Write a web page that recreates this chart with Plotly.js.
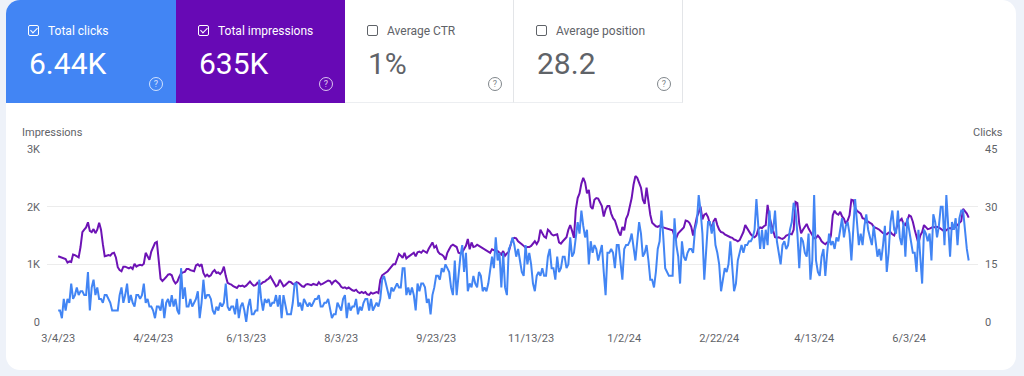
<!DOCTYPE html>
<html><head><meta charset="utf-8">
<script src="https://cdn.plot.ly/plotly-3.0.1.min.js"></script>
<style>
html,body{margin:0;padding:0;width:1024px;height:376px;overflow:hidden;background:#eef2f9;font-family:Roboto,"Noto Sans",Arial,sans-serif;}
#card{position:absolute;left:6px;top:0;width:1010px;height:370px;background:#fff;border-radius:14px;}
.m{position:absolute;top:0;height:103px;box-sizing:border-box;}
.lbl{position:absolute;left:42px;top:24px;font-size:12px;line-height:14px;}
.cb{position:absolute;left:22px;top:25px;width:9px;height:9px;border:1.5px solid;border-radius:2px;}
.cb.on::after{content:"";position:absolute;left:2.5px;top:0px;width:3px;height:6px;border:solid currentColor;border-width:0 1.5px 1.5px 0;transform:rotate(45deg);}
.val{position:absolute;left:23px;top:46px;font-size:30px;line-height:36px;}
.q{position:absolute;left:143px;top:77px;width:12px;height:12px;border:1.2px solid;border-radius:50%;font-size:9px;line-height:12px;text-align:center;}
.axt{position:absolute;top:126px;font-size:11px;color:#5f6368;}
#chart{position:absolute;left:0;top:110px;width:1024px;height:260px;}
</style></head>
<body>
<div id="card"></div>
<div class="m" style="left:6px;width:170px;background:#4285f4;color:#fff;border-top-left-radius:14px;">
  <span class="cb on" style="border-color:#fff;color:#fff"></span><span class="lbl">Total clicks</span>
  <span class="val">6.44K</span><span class="q" style="border-color:rgba(255,255,255,0.75);color:rgba(255,255,255,0.8)">?</span></div>
<div class="m" style="left:176px;width:169px;background:#6709b5;color:#fff;">
  <span class="cb on" style="border-color:#fff;color:#fff"></span><span class="lbl">Total impressions</span>
  <span class="val">635K</span><span class="q" style="border-color:rgba(255,255,255,0.75);color:rgba(255,255,255,0.8)">?</span></div>
<div class="m" style="left:345px;width:169px;background:#fff;color:#5f6368;border-right:1px solid #e3e5e8;border-bottom:1px solid #eceef1;">
  <span class="cb" style="border-color:#5f6368"></span><span class="lbl">Average CTR</span>
  <span class="val">1%</span><span class="q" style="border-color:#80868b;color:#80868b">?</span></div>
<div class="m" style="left:514px;width:169px;background:#fff;color:#5f6368;border-right:1px solid #e3e5e8;border-bottom:1px solid #eceef1;">
  <span class="cb" style="border-color:#5f6368"></span><span class="lbl">Average position</span>
  <span class="val">28.2</span><span class="q" style="border-color:#80868b;color:#80868b">?</span></div>
<div class="axt" style="left:22px;">Impressions</div>
<div class="axt" style="left:973px;">Clicks</div>
<div id="chart"></div>
<script>
const startDate = '2023-03-04';
const impressions = [
1140,1130,1110,1100,1090,1030,1050,1040,1170,1160,
1140,1120,1300,1560,1600,1640,1730,1580,1560,1610,
1540,1600,1720,1600,1350,1140,1150,1160,1150,1190,
1200,1120,950,900,880,960,960,950,930,950,
920,1010,960,980,990,980,1010,1200,1150,1080,
1220,1310,1370,1390,1050,750,710,740,780,820,
830,810,720,670,700,780,840,860,870,920,
920,900,890,880,980,1000,970,1000,850,790,
820,790,810,870,900,850,860,830,870,960,
800,680,660,650,620,610,590,630,620,630,
610,630,660,700,660,630,640,680,650,660,
690,700,730,750,790,730,660,620,640,730,
680,620,640,680,700,690,660,650,690,680,
640,620,610,650,660,650,640,660,650,640,
690,650,660,680,700,720,710,660,700,720,
690,660,610,590,600,580,600,570,550,540,
560,520,500,520,500,520,480,470,510,490,
500,520,500,730,810,830,860,880,920,960,
1000,1000,1090,1180,1150,1110,1200,1100,1130,1150,
1180,1200,1140,1210,1220,1200,1240,1220,1200,1270,
1320,1380,1290,1320,1220,1180,1170,1140,1080,1200,
1260,1320,1340,1320,1300,1200,1190,1210,1260,1320,
1440,1260,1380,1300,1310,1340,1320,1300,1290,1270,
1250,1220,1200,1260,1240,1230,1230,1200,1170,1230,
1150,1190,1220,1340,1440,1460,1450,1400,1380,1350,
1320,1290,1300,1300,1320,1360,1400,1350,1410,1600,
1550,1480,1460,1600,1570,1520,1500,1510,1520,1380,
1360,1400,1440,1470,1600,1680,1580,1460,1950,2150,
2230,2400,2500,2420,2230,2290,2000,1960,2120,2150,
2140,2080,2010,1830,1950,2010,2010,1880,1800,1760,
1650,1560,1500,1650,1590,1790,1860,2000,2150,2380,
2530,2500,2410,2330,2120,2050,2330,2070,1860,1720,
1690,1660,1650,1670,1650,1640,1620,1610,1600,1590,
1590,1480,1460,1540,1580,1620,1640,1760,1750,1720,
1650,1500,1700,1820,1900,2000,1780,1860,1880,1820,
1700,1640,1750,1800,1680,1600,1560,1550,1520,1500,
1480,1470,1460,1430,1420,1400,1420,1500,1560,1680,
1620,1570,1520,1490,1470,1500,1610,1640,1630,1660,
1680,2030,1820,1700,1560,1470,1460,1470,1450,1440,
1460,1500,1510,1530,1520,1600,2080,2060,1700,1540,
1600,1650,1700,1620,1560,1500,1450,1460,1500,1460,
1400,1370,1350,1380,1390,1500,1850,1930,1880,1860,
1910,1830,1790,1700,1760,1850,2120,2110,1970,1930,
1900,1880,1800,1790,1730,1740,1720,1700,1650,1640,
1620,1600,1560,1540,1530,1520,1550,1560,1520,1500,
1600,1720,1760,1790,1700,1680,1760,1850,1830,1740,
1600,1450,1360,1500,1560,1680,1640,1610,1620,1640,
1650,1640,1650,1640,1620,1600,1570,1590,1620,1630,
1610,1620,1650,1680,1720,1750,1960,1920,1880,1810];
const clicks = [
3,3,1,6,3,6,5,10,6,7,
9,7,8,8,7,7,13,3,9,11,
7,9,6,6,5,7,7,6,5,3,
3,3,3,7,9,5,7,10,5,7,
5,4,7,7,6,7,10,5,6,4,
4,3,1,4,4,3,6,1,5,6,
4,7,4,6,3,2,14,6,9,4,
4,6,4,5,6,8,1,5,11,6,
7,7,6,3,2,4,3,5,4,5,
10,4,3,4,4,2,6,1,4,5,
3,0,4,6,2,2,3,3,11,6,
3,6,5,6,4,5,5,7,4,7,
1,7,4,2,2,2,5,10,10,4,
5,3,6,5,4,5,4,5,6,6,
7,4,4,5,5,6,3,1,2,2,
5,4,3,6,7,1,5,3,4,4,
6,2,4,3,5,6,6,3,6,3,
4,5,4,6,11,12,10,8,6,9,
8,9,10,9,9,14,14,7,9,7,
9,7,3,10,8,10,10,9,5,6,
2,7,9,12,12,11,14,13,15,14,
13,9,7,16,7,12,17,20,13,18,
8,10,9,12,10,9,13,12,8,9,
8,10,13,17,14,22,16,18,9,18,
9,7,19,20,22,20,17,19,16,13,
12,20,15,18,15,10,8,12,13,12,
14,12,12,17,19,14,14,11,17,13,
14,17,17,14,15,22,17,18,22,26,
23,29,25,22,24,15,21,18,20,19,
16,18,20,13,7,18,18,19,18,14,
20,20,16,11,19,20,20,21,23,20,
16,21,26,23,17,18,20,16,11,11,
9,13,19,21,29,22,14,13,12,12,
12,27,20,17,10,21,17,16,18,19,
19,18,24,26,33,29,23,11,20,26,
26,23,26,20,18,15,8,11,14,13,
15,21,13,8,10,16,18,20,18,20,
20,21,21,22,24,32,25,19,24,19,
24,20,29,23,24,29,21,18,15,20,
21,19,20,24,26,31,29,23,14,22,
21,18,17,23,11,16,33,16,13,12,
17,19,12,18,23,20,21,19,22,21,
24,27,22,25,26,23,16,25,32,26,
20,23,20,25,28,24,22,20,25,21,
17,19,16,20,25,13,18,26,29,24,
23,29,22,20,26,17,27,24,21,18,
18,13,24,17,10,24,23,21,23,16,
28,26,22,25,30,30,20,33,26,17,
26,24,27,20,27,29,29,23,19,16];
const xTickDates = ['2023-03-04','2023-04-24','2023-06-13','2023-08-03','2023-09-23','2023-11-13','2024-01-02','2024-02-22','2024-04-13','2024-06-03'];
const xTickLabels = ['3/4/23','4/24/23','6/13/23','8/3/23','9/23/23','11/13/23','1/2/24','2/22/24','4/13/24','6/3/24'];
const impTicks = [0,1000,2000,3000];
const impTickLabels = ['0','1K','2K','3K'];
const clickTicks = [0,15,30,45];

const DAY = 86400000;
const t0 = Date.parse(startDate + 'T00:00:00Z');
const iso = ms => new Date(ms).toISOString().slice(0,10);
const dates = impressions.map((_, i) => iso(t0 + i*DAY));
const xRange = [iso(t0 - 6*DAY), iso(t0 + (impressions.length - 1 + 5.5)*DAY)];

const tickFont = {family:'Roboto, sans-serif', size:11, color:'#5f6368'};
const data = [
  {x:dates, y:impressions, type:'scatter', mode:'lines', yaxis:'y', line:{color:'#6d13b5', width:2}, hoverinfo:'skip'},
  {x:dates, y:clicks, type:'scatter', mode:'lines', yaxis:'y2', line:{color:'#4285f4', width:2}, hoverinfo:'skip'}
];
const layout = {
  width:1024, height:260,
  margin:{l:47, r:46, t:39, b:48},
  paper_bgcolor:'rgba(0,0,0,0)', plot_bgcolor:'rgba(0,0,0,0)',
  showlegend:false,
  xaxis:{type:'date', range:xRange, tickvals:xTickDates, ticktext:xTickLabels, showgrid:false, zeroline:false, showline:false, ticks:'', tickfont:tickFont, ticklabelstandoff:8},
  yaxis:{range:[0,3000], tickvals:impTicks, ticktext:impTickLabels, showgrid:true, gridcolor:'#ececec', gridwidth:1, zeroline:false, showline:false, ticks:'', tickfont:tickFont, ticklabelstandoff:6},
  yaxis2:{range:[0,45], tickvals:clickTicks, overlaying:'y', side:'right', showgrid:false, zeroline:false, showline:false, ticks:'', tickfont:tickFont, ticklabelstandoff:6}
};
Plotly.newPlot('chart', data, layout, {displayModeBar:false, staticPlot:true});
</script>
</body></html>
